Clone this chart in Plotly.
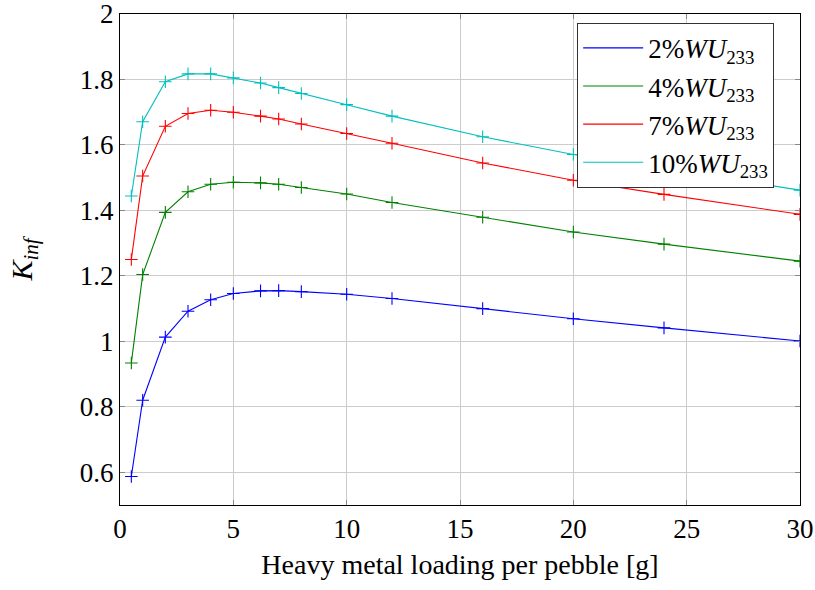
import plotly.graph_objects as go

x_loading = [0.5, 1, 2, 3, 4, 5, 6.2, 7, 8, 10, 12, 16, 20, 24, 30]

k_2pct = [0.587, 0.820, 1.013, 1.092, 1.127, 1.146, 1.154, 1.155, 1.152, 1.144, 1.131, 1.100, 1.069, 1.041, 1.001]
k_4pct = [0.934, 1.204, 1.394, 1.457, 1.480, 1.486, 1.484, 1.480, 1.470, 1.450, 1.424, 1.379, 1.334, 1.297, 1.245]
k_7pct = [1.250, 1.505, 1.657, 1.696, 1.706, 1.700, 1.688, 1.679, 1.664, 1.635, 1.605, 1.545, 1.492, 1.449, 1.388]
k_10pct = [1.444, 1.671, 1.793, 1.817, 1.817, 1.805, 1.789, 1.775, 1.757, 1.723, 1.688, 1.625, 1.571, 1.527, 1.462]

series_names = ["2%<i>WU</i><sub>233</sub>", "4%<i>WU</i><sub>233</sub>",
                "7%<i>WU</i><sub>233</sub>", "10%<i>WU</i><sub>233</sub>"]
series_colors = ["#0000ff", "#008000", "#ff0000", "#00bfbf"]

x_ticks = [0, 5, 10, 15, 20, 25, 30]
y_ticks = [0.6, 0.8, 1.0, 1.2, 1.4, 1.6, 1.8, 2.0]
y_tick_labels = ["0.6", "0.8", "1", "1.2", "1.4", "1.6", "1.8", "2"]

FONT = "Liberation Serif"

fig = go.Figure()
for i, (name, ys, col) in enumerate(zip(series_names, [k_2pct, k_4pct, k_7pct, k_10pct], series_colors)):
    fig.add_trace(go.Scatter(
        x=x_loading, y=ys, name=name, mode="lines", legendgroup=f"g{i}",
        line=dict(color=col, width=1.1),
    ))
    fig.add_trace(go.Scatter(
        x=x_loading, y=ys, name=name, mode="markers", legendgroup=f"g{i}", showlegend=False,
        marker=dict(symbol="cross-thin", size=9, line=dict(color=col, width=1.1), color=col),
    ))

axis_common = dict(
    showline=True, linecolor="black", linewidth=1, mirror="ticks",
    ticks="inside", ticklen=5, tickcolor="#888888",
    showgrid=True, gridcolor="#cccccc", gridwidth=1, zeroline=False,
    tickfont=dict(family=FONT, size=27, color="black"),
    automargin=False, ticklabeloverflow="allow",
)

fig.update_layout(
    width=815, height=590,
    margin=dict(l=120, r=15, t=14, b=85),
    paper_bgcolor="white", plot_bgcolor="white",
    font=dict(family=FONT, size=27, color="black"),
    xaxis=dict(range=[0, 30], tickvals=x_ticks,
               title=dict(text="Heavy metal loading per pebble [g]", font=dict(family=FONT, size=28), standoff=10),
               **axis_common),
    yaxis=dict(range=[0.5, 2], tickvals=y_ticks, ticktext=y_tick_labels,
               title=dict(text="<i>K</i><sub><i>inf</i></sub>", font=dict(family=FONT, size=30), standoff=38),
               **axis_common),
    legend=dict(x=0.962, y=0.982, xanchor="right", yanchor="top",
                bgcolor="white", bordercolor="#333333", borderwidth=1,
                font=dict(family=FONT, size=27), itemwidth=60, tracegroupgap=0),
    showlegend=True,
)

fig.write_html("out.html")
